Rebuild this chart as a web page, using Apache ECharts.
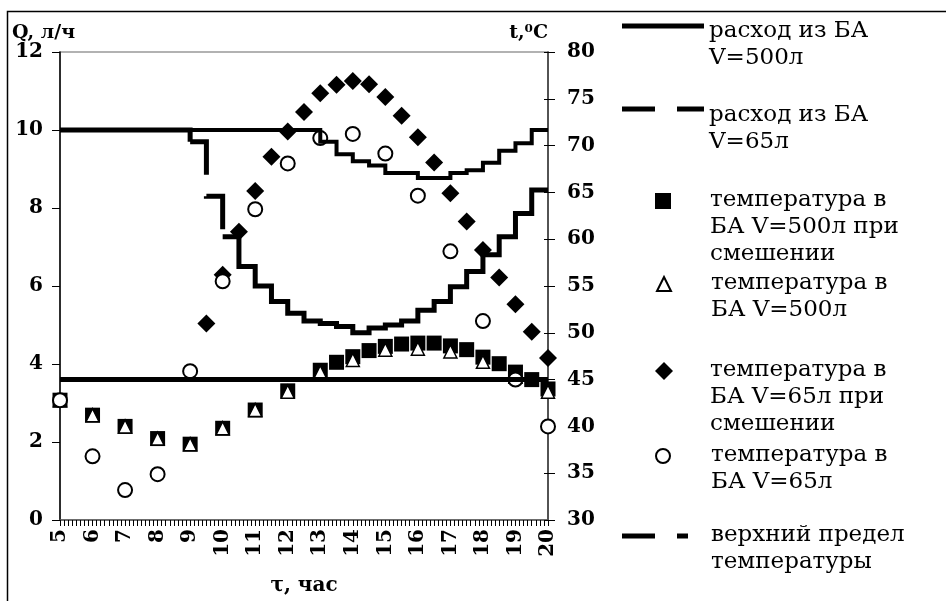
<!DOCTYPE html>
<html><head><meta charset="utf-8">
<script src="https://cdn.jsdelivr.net/npm/echarts@6/dist/echarts.min.js"></script>
<style>html,body{margin:0;padding:0;background:#fff}#c{width:946px;height:601px}</style>
</head><body><div id="c"></div>
<script>
// ---- data ----
const flowHours = [5,5.5,6,6.5,7,7.5,8,8.5,9,9.5,10,10.5,11,11.5,12,12.5,13,13.5,14,14.5,15,15.5,16,16.5,17,17.5,18,18.5,19,19.5,20];
const flow500 = [10,10,10,10,10,10,10,10,10,10,10,10,10,10,10,10,9.7,9.38,9.2,9.09,8.9,8.9,8.77,8.77,8.9,8.97,9.16,9.47,9.66,10,10];
const flow65  = [10,10,10,10,10,10,10,10,9.7,8.3,7.26,6.5,6.0,5.6,5.3,5.1,5.04,4.96,4.8,4.92,5.0,5.1,5.38,5.6,5.98,6.37,6.8,7.26,7.86,8.46,8.46];
const squareHours = [5,6,7,8,9,10,11,12,13,13.5,14,14.5,15,15.5,16,16.5,17,17.5,18,18.5,19,19.5,20];
const squareTemp  = [42.8,41.2,40.0,38.7,38.1,39.8,41.75,43.8,46.0,46.85,47.45,48.1,48.55,48.8,48.9,48.9,48.6,48.2,47.4,46.7,45.8,45.0,44.0];
const triHours = [5,6,7,8,9,10,11,12,13,14,15,16,17,18,19,20];
const triTemp  = [42.8,41.2,40.0,38.7,38.1,39.8,41.75,43.7,45.8,47.1,48.2,48.3,48.0,46.9,45.3,43.7];
const diamondHours = [9.5,10,10.5,11,11.5,12,12.5,13,13.5,14,14.5,15,15.5,16,16.5,17,17.5,18,18.5,19,19.5,20];
const diamondTemp  = [51.0,56.2,60.8,65.15,68.8,71.5,73.6,75.6,76.5,76.9,76.55,75.2,73.2,70.9,68.2,64.9,61.9,58.85,55.9,53.05,50.1,47.3];
const circleHours = [5,6,7,8,9,10,11,12,13,14,15,16,17,18,19,20];
const circleTemp  = [42.8,36.8,33.2,34.9,45.9,55.5,63.2,68.1,70.8,71.25,69.15,64.65,58.7,51.25,45.0,40.0];
const limitHours = [5,20];
const limitTemp  = [45,45];
const xTicks = [5,20,1];
const qTicks = [0,12,2];
const tTicks = [30,80,5];
const names = [
  'расход из БА\nV=500л',
  'расход из БА\nV=65л',
  'температура в\nБА V=500л при\nсмешении',
  'температура в\nБА V=500л',
  'температура в\nБА V=65л при\nсмешении',
  'температура в\nБА V=65л',
  'верхний предел\nтемпературы'
];
const xAxisTitle = 'τ, час';
const qAxisTitle = 'Q, л/ч';
const tAxisTitle = 't,⁰C';

// ---- build ----
const zip = (a, b) => a.map((v, i) => [v, b[i]]);
const f500 = zip(flowHours, flow500);
const f65 = zip(flowHours, flow65);
const FONT = 'DejaVu Serif';

function lineSeries(name, data, width, dash, yIdx) {
  return {
    type: 'line', name, data, step: 'end', yAxisIndex: yIdx || 0,
    symbol: 'none', showSymbol: false, silent: true,
    lineStyle: { color: '#000', width, type: dash || 'solid', cap: 'butt', join: 'miter' },
    itemStyle: { color: '#000' }
  };
}
function scatter(name, data, symbol, size, fill, border, bw) {
  return {
    type: 'scatter', name, data, yAxisIndex: 1, symbol, symbolSize: size, silent: true,
    itemStyle: { color: fill, borderColor: border, borderWidth: bw, opacity: 1 }
  };
}
const series = [
  lineSeries(names[0], f500, 4),
  lineSeries(names[1], f65.slice(0, 9), 5),
  lineSeries(names[1], f65.slice(8, 11), 5, [49.2, 21.6, 49.2, 7.6]),
  lineSeries(names[1], f65.slice(10), 5),
  Object.assign(lineSeries(names[6], zip(limitHours, limitTemp), 5, 'solid', 1), { step: false }),
  scatter(names[2], zip(squareHours, squareTemp), 'rect', 15, '#000', '#000', 0),
  scatter(names[3], zip(triHours, triTemp), 'triangle', 13, '#fff', '#000', 1.5),
  scatter(names[4], zip(diamondHours, diamondTemp), 'diamond', 18, '#000', '#000', 0),
  scatter(names[5], zip(circleHours, circleTemp), 'circle', 14, '#fff', '#000', 2)
];

const LFS = 23;
function legend(name, o) {
  return {
    data: [name], left: o.left, top: o.top, orient: 'vertical', padding: 0,
    itemWidth: o.w, itemHeight: o.h, icon: o.icon, selectedMode: false,
    itemStyle: o.itemStyle || { color: '#000', borderWidth: 0 },
    formatter: n => '{s| }\n' + n.split('\n').map(l => '{t|' + l + '}').join('\n'),
    textStyle: {
      fontFamily: FONT, fontSize: LFS, color: '#000',
      rich: {
        s: { fontSize: 2, lineHeight: o.L },
        t: { fontFamily: FONT, fontSize: LFS, lineHeight: 27, color: '#000', padding: [0, 0, 0, o.pad] }
      }
    }
  };
}
const openStyle = { color: '#fff', borderColor: '#000', borderWidth: 2 };
const legends = [
  legend(names[0], { left: 622, top: -2, L: 37, w: 82, h: 5, pad: 0, icon: 'path://M0,0H82V5H0Z' }),
  legend(names[1], { left: 622, top: 81, L: 39, w: 82, h: 5, pad: 0, icon: 'path://M0,0H33V5H0Z M55,0H82V5H55Z' }),
  legend(names[2], { left: 655, top: 159.5, L: 52, w: 16, h: 16, pad: 34, icon: 'rect' }),
  legend(names[3], { left: 656, top: 256, L: 25, w: 14, h: 14, pad: 35, icon: 'triangle', itemStyle: openStyle }),
  legend(names[4], { left: 655, top: 329.5, L: 52, w: 18, h: 18, pad: 32, icon: 'diamond' }),
  legend(names[5], { left: 655, top: 428, L: 25, w: 14, h: 14, pad: 36, icon: 'circle', itemStyle: openStyle }),
  legend(names[6], { left: 622, top: 508, L: 25, w: 66, h: 5, pad: 18, icon: 'path://M0,0H33V5H0Z M55,0H66V5H55Z' })
];

const labelStyle = { fontFamily: FONT, fontSize: 20, fontWeight: 'bold', color: '#000' };
const option = {
  animation: false,
  backgroundColor: '#fff',
  grid: { left: 60, right: 398, top: 52, bottom: 81, show: true, borderColor: '#999', borderWidth: 1.5, backgroundColor: 'transparent' },
  xAxis: {
    type: 'value', min: xTicks[0], max: xTicks[1], interval: xTicks[2],
    name: xAxisTitle, nameLocation: 'middle', nameGap: 56,
    nameTextStyle: { fontFamily: FONT, fontSize: 20, fontWeight: 'bold', color: '#000' },
    axisLine: { lineStyle: { color: '#555', width: 1.5 } },
    axisTick: { show: true, length: 6, lineStyle: { color: '#000', width: 1 } },
    minorTick: { show: true, splitNumber: 8, length: 6, lineStyle: { color: '#000', width: 1 } },
    splitLine: { show: false },
    axisLabel: Object.assign({ rotate: 90, margin: 9 }, labelStyle)
  },
  yAxis: [{
    type: 'value', min: qTicks[0], max: qTicks[1], interval: qTicks[2], position: 'left',
    name: qAxisTitle, nameLocation: 'end', nameGap: 9,
    nameTextStyle: { fontFamily: FONT, fontSize: 19, fontWeight: 'bold', color: '#000', align: 'left', padding: [0, 0, 0, -48] },
    axisLine: { show: true, lineStyle: { color: '#000', width: 1.5 } },
    axisTick: { show: true, length: 8, lineStyle: { color: '#000' } },
    splitLine: { show: false },
    axisLabel: Object.assign({ margin: 17 }, labelStyle)
  }, {
    type: 'value', min: tTicks[0], max: tTicks[1], interval: tTicks[2], position: 'right',
    name: tAxisTitle, nameLocation: 'end', nameGap: 9,
    nameTextStyle: { fontFamily: FONT, fontSize: 19, fontWeight: 'bold', color: '#000', align: 'right' },
    axisLine: { show: true, lineStyle: { color: '#333', width: 1.5 } },
    axisTick: { show: true, length: 7, lineStyle: { color: '#000' } },
    splitLine: { show: false },
    axisLabel: Object.assign({ margin: 19 }, labelStyle)
  }, {
    type: 'value', min: tTicks[0], max: tTicks[1], interval: tTicks[2], position: 'right',
    axisLine: { show: false },
    axisTick: { show: true, inside: true, length: 4, lineStyle: { color: '#000' } },
    axisLabel: { show: false },
    splitLine: { show: false }
  }],
  legend: legends,
  graphic: [{
    type: 'rect', silent: true, z: -1,
    shape: { x: 7.5, y: 11.5, width: 1200, height: 1200 },
    style: { fill: 'none', stroke: '#000', lineWidth: 1.5 }
  }],
  series
};
const chart = echarts.init(document.getElementById('c'), null, { renderer: 'canvas' });
chart.setOption(option);
</script></body></html>
